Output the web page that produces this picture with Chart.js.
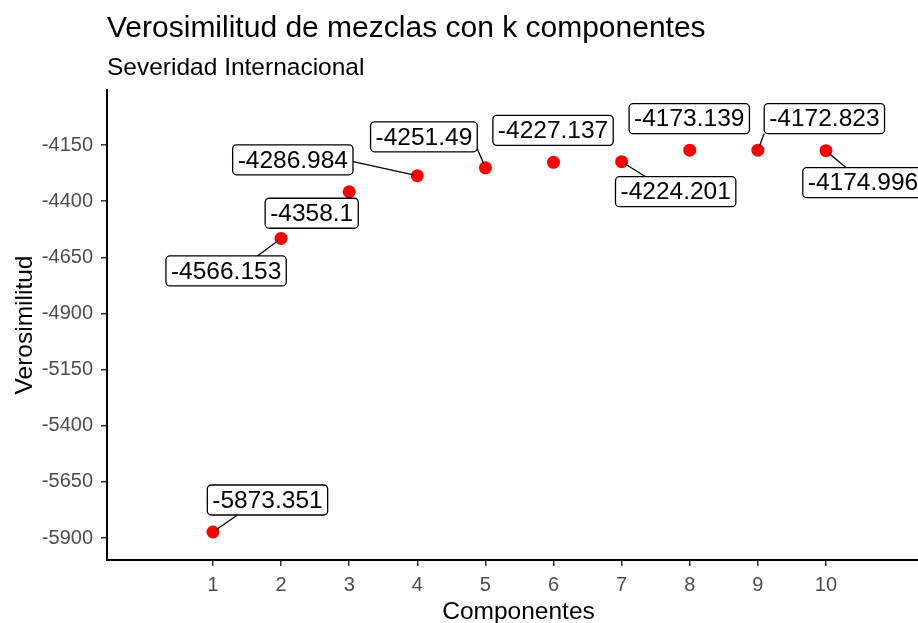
<!DOCTYPE html>
<html>
<head>
<meta charset="utf-8">
<script src="https://cdn.jsdelivr.net/npm/chart.js@4/dist/chart.umd.min.js"></script>
<style>
  html, body { margin: 0; padding: 0; background: #fff; }
  #wrap { width: 918px; height: 623px; }
</style>
</head>
<body>
<div id="wrap"><canvas id="chart" width="918" height="623"></canvas></div>
<script>
// Data
const components = [1, 2, 3, 4, 5, 6, 7, 8, 9, 10];
const logLik = [-5873.351, -4566.153, -4358.1, -4286.984, -4251.49,
                -4227.137, -4224.201, -4173.139, -4172.823, -4174.996];
const xTicks = [1, 2, 3, 4, 5, 6, 7, 8, 9, 10];
const yTicks = [-4150, -4400, -4650, -4900, -5150, -5400, -5650, -5900];

const FONT = "'Liberation Sans', Arial, sans-serif";

// Repelled label placement: box centre offset from the point (px),
// and where the leader segment leaves the box (in half-box units), or null
const labelLayout = [
  { dx: 54.5, dy: -32, anchor: [-0.5, 1] },
  { dx: -55, dy: 32.5, anchor: [0.52, -1] },
  { dx: -37.5, dy: 21.5, anchor: null },
  { dx: -124.5, dy: -16, anchor: [1, 0.13] },
  { dx: -61.5, dy: -31, anchor: [1, 0.8] },
  { dx: -0.5, dy: -32, anchor: null },
  { dx: 54, dy: 30, anchor: [-0.5, -1] },
  { dx: -0.5, dy: -31.5, anchor: null },
  { dx: 66.5, dy: -31.5, anchor: [-1, 1] },
  { dx: 37, dy: 32, anchor: [-0.28, -1] },
];

/**
 * Draws the ggrepel-style labels with their leader segments
 */
const repelLabels = {
  id: "repelLabels",
  afterDatasetsDraw(chart) {
    const { ctx, scales } = chart;
    const pointRadius = 6.5;
    ctx.save();
    ctx.font = `24.5px ${FONT}`;
    components.forEach((c, i) => {
      const px = scales.x.getPixelForValue(c);
      const py = scales.y.getPixelForValue(logLik[i]);
      const lay = labelLayout[i];
      const text = String(logLik[i]);
      const w = ctx.measureText(text).width + 10;
      const h = 30;
      const cx = px + lay.dx;
      const cy = py + lay.dy;

      // leader segment
      if (lay.anchor) {
        const sx = cx + lay.anchor[0] * w / 2;
        const sy = cy + lay.anchor[1] * h / 2;
        const len = Math.hypot(px - sx, py - sy);
        const ex = px - (px - sx) / len * pointRadius * 0.6;
        const ey = py - (py - sy) / len * pointRadius * 0.6;
        ctx.beginPath();
        ctx.moveTo(sx, sy);
        ctx.lineTo(ex, ey);
        ctx.strokeStyle = "#000";
        ctx.lineWidth = 1.3;
        ctx.stroke();
      }

      // box
      ctx.beginPath();
      ctx.roundRect(cx - w / 2, cy - h / 2, w, h, 4);
      ctx.fillStyle = "#fff";
      ctx.fill();
      ctx.strokeStyle = "#000";
      ctx.lineWidth = 1.3;
      ctx.stroke();

      // text
      ctx.fillStyle = "#000";
      ctx.textAlign = "center";
      ctx.textBaseline = "middle";
      ctx.fillText(text, cx, cy + 1);
    });
    ctx.restore();
  },
};

/**
 * Title, subtitle and axis titles placed like the ggplot original
 */
const ggTitles = {
  id: "ggTitles",
  afterDraw(chart) {
    const { ctx, chartArea } = chart;
    ctx.save();
    ctx.fillStyle = "#000";
    ctx.textBaseline = "alphabetic";
    ctx.textAlign = "left";
    ctx.font = `30px ${FONT}`;
    ctx.fillText("Verosimilitud de mezclas con k componentes", chartArea.left, 37);
    ctx.font = `24.5px ${FONT}`;
    ctx.fillText("Severidad Internacional", chartArea.left, 75);

    ctx.textAlign = "center";
    ctx.fillText("Componentes", 518.5, 619);

    ctx.translate(32, (chartArea.top + chartArea.bottom) / 2);
    ctx.rotate(-Math.PI / 2);
    ctx.fillText("Verosimilitud", 0, 0);
    ctx.restore();
  },
};

const axisCommon = {
  grid: {
    display: true,
    drawOnChartArea: false,
    drawTicks: true,
    tickLength: 6,
    color: "#333333",
    lineWidth: 1.5,
  },
  border: { display: true, color: "#000", width: 2 },
  ticks: {
    color: "#4D4D4D",
    font: { family: FONT, size: 20 },
    callback: (v) => String(v),
  },
};

const ctx = document.getElementById("chart").getContext("2d");
const chart = new Chart(ctx, {
  type: "scatter",
  data: {
    datasets: [
      {
        data: components.map((c, i) => ({ x: c, y: logLik[i] })),
        backgroundColor: "#FF0000",
        borderWidth: 0,
        pointRadius: 6.5,
        pointHoverRadius: 6.5,
      },
    ],
  },
  options: {
    responsive: false,
    animation: false,
    devicePixelRatio: 1,
    layout: { autoPadding: false, padding: { top: 90, right: 0, bottom: 0, left: 0 } },
    plugins: {
      legend: { display: false },
      tooltip: { enabled: false },
      title: { display: false },
    },
    scales: {
      x: {
        ...axisCommon,
        type: "linear",
        min: -0.556,
        max: 11.351,
        afterBuildTicks: (s) => { s.ticks = xTicks.map((v) => ({ value: v })); },
        afterFit: (s) => { s.height = 63; s.paddingLeft = 0; s.paddingRight = 0; },
        ticks: { ...axisCommon.ticks, padding: 7, maxRotation: 0, autoSkip: false },
      },
      y: {
        ...axisCommon,
        type: "linear",
        min: -5998,
        max: -3905,
        afterBuildTicks: (s) => { s.ticks = yTicks.map((v) => ({ value: v })); },
        afterFit: (s) => { s.width = 107; s.paddingTop = 0; s.paddingBottom = 0; },
        ticks: { ...axisCommon.ticks, padding: 8, autoSkip: false },
      },
    },
  },
  plugins: [repelLabels, ggTitles],
});
</script>
</body>
</html>
